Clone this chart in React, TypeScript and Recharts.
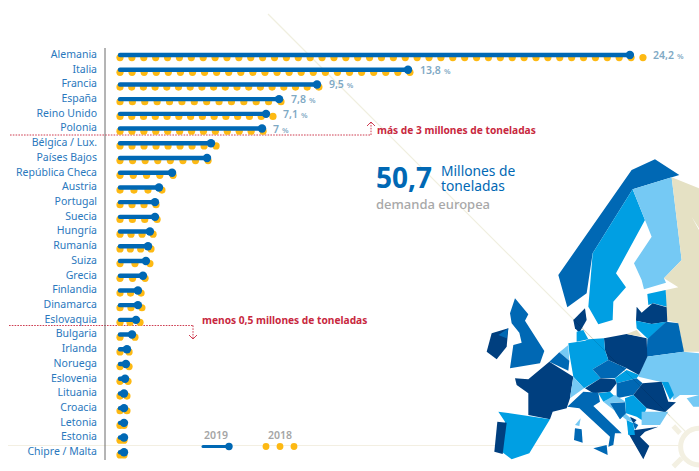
import React from "react";
import { BarChart, Bar, XAxis, YAxis, LabelList, Legend } from "recharts";

const countries = ["Alemania","Italia","Francia","España","Reino Unido","Polonia","Bélgica / Lux.","Países Bajos","República Checa","Austria","Portugal","Suecia","Hungría","Rumanía","Suiza","Grecia","Finlandia","Dinamarca","Eslovaquia","Bulgaria","Irlanda","Noruega","Eslovenia","Lituania","Croacia","Letonia","Estonia","Chipre / Malta"];
const values2019 = [24.2,13.67,9.35,7.55,6.93,6.74,4.32,4.13,2.47,1.85,1.66,1.66,1.42,1.33,1.23,1.09,0.85,0.85,0.76,0.57,0.33,0.28,0.24,0.19,0.19,0.19,0.19,0.19];
const values2018 = [24.82,13.76,9.44,7.64,7.26,6.79,4.56,4.18,2.52,1.99,1.71,1.76,1.57,1.47,1.42,1.19,1.0,1.04,0.95,0.71,0.43,0.43,0.38,0.33,0.33,0.19,0.19,0.19];
const shareLabels = ["24,2","13,8","9,5","7,8","7,1","7"];

const data = countries.map((name, i) => ({ name, y2019: values2019[i], y2018: values2018[i], share: shareLabels[i] ?? "" }));

const FONT = "'Noto Sans', sans-serif";
const BLUE = "#0068b4";
const YELLOW = "#fdb913";
const RED = "#c8283e";

const mapShapes: [string, string][] = [
  ["#0068b4","515,60 585,28 658,75 518,118 398,310 380,430 322,472 295,375"],
  ["#009fe3","518,118 555,210 468,370 498,412 460,455 458,510 415,523 385,470 398,310"],
  ["#75c9f4","518,118 635,82 665,330 612,385 618,398 552,418 545,390 522,340 575,260 555,210"],
  ["#e5e1c4","635,82 717,115 717,235 695,200 717,240 717,605 670,605 655,520 618,510 617,420 655,412 612,385 665,330"],
  ["#009fe3","562,432 617,420 620,470 580,460 565,465"],
  ["#003f7f","530,470 545,488 578,460 620,472 622,515 575,522 528,512"],
  ["#009fe3","528,512 575,522 618,515 565,568 530,535"],
  ["#0068b4","618,515 655,520 672,605 560,620 562,568"],
  ["#75c9f4","560,620 670,605 717,610 717,735 660,735 640,750 625,695 600,695 535,680"],
  ["#003f7f","432,565 500,552 560,565 562,620 537,675 500,655 445,630 435,600"],
  ["#e5e1c4","500,552 530,540 547,560"],
  ["#009fe3","325,580 375,572 385,568 432,565 435,600 445,630 398,658 422,685 372,715 340,680 328,610"],
  ["#003f7f","340,510 375,475 380,510 358,548 345,535"],
  ["#009fe3","350,545 370,540 385,568 350,575"],
  ["#75c9f4","298,607 325,585 328,632"],
  ["#0068b4","268,635 298,607 328,632 325,662"],
  ["#003f7f","165,685 205,688 268,635 340,680 330,745 320,775 278,785 270,808 205,795 205,730 170,705"],
  ["#0068b4","398,658 445,630 500,655 465,685 422,685"],
  ["#009fe3","465,685 500,660 537,675 530,685 470,700"],
  ["#003f7f","375,715 422,685 465,688 470,700 450,725 400,730"],
  ["#75c9f4","340,680 372,715 330,745"],
  ["#0068b4","470,700 530,685 548,700 520,735 470,745"],
  ["#003f7f","548,700 605,695 625,755 648,757 615,787 560,775 520,735"],
  ["#009fe3","605,695 625,695 642,735 630,750"],
  ["#009fe3","415,730 450,725 465,740 430,755"],
  ["#75c9f4","430,755 465,735 497,755 450,760 480,808 495,790 530,820 500,810"],
  ["#0068b4","450,760 495,757 498,790 480,808"],
  ["#009fe3","495,745 520,735 560,775 545,810 530,800 498,790"],
  ["#75c9f4","545,785 625,785 600,825 545,825"],
  ["#0068b4","322,770 370,725 415,728 420,755 400,768 485,850 465,850 460,885 445,890 450,860 358,775"],
  ["#0068b4","400,895 440,885 443,915"],
  ["#0068b4","345,835 365,838 368,878 342,870"],
  ["#75c9f4","345,825 362,805 358,828"],
  ["#009fe3","115,785 270,808 208,910 155,928 125,905 135,815"],
  ["#003f7f","112,815 140,818 128,912 103,905"],
  ["#0068b4","165,445 205,493 195,512 253,603 240,640 150,655 160,585 185,578 178,548 155,520 150,490"],
  ["#003f7f","95,550 145,535 140,590 110,628 80,605"],
  ["#0068b4","115,555 145,535 140,565"],
  ["#003f7f","510,842 595,830 555,845 540,860 568,888 550,928 505,850"],
  ["#003f7f","510,800 530,810 520,820"],
  ["#009fe3","500,810 520,820 525,855 505,855"],
  ["#0068b4","518,815 535,825 525,840"],
  ["#75c9f4","680,745 717,735 717,770 700,770"],
];

const Lollipop = (p: any) => {
  const cy = p.y + p.height / 2;
  return (
    <g>
      <line x1={p.x} x2={p.x + p.width} y1={cy} y2={cy} stroke={BLUE} strokeWidth={4.4} strokeLinecap="round" />
      <circle cx={p.x + p.width} cy={cy} r={4.2} fill={BLUE} />
    </g>
  );
};

const Dots = (p: any) => {
  const cy = p.y + p.height / 2 + 2.6;
  const n = Math.max(1, Math.round(p.width / 12));
  const step = p.width / n;
  return (
    <g>
      {Array.from({ length: n + 1 }, (_, i) => (
        <circle key={i} cx={p.x + i * step} cy={cy} r={3.6} fill={YELLOW} />
      ))}
    </g>
  );
};

const CountryTick = (p: any) => (
  <text x={97} y={p.y} dy={2.5} textAnchor="end" fontFamily={FONT} fontSize={10.5} fill="#2a78bd">
    {p.payload.value}
  </text>
);

const ShareLabel = (p: any) => {
  if (!p.value) return null;
  return (
    <text x={p.x + p.width + 10} y={p.y + p.height / 2 + 4} fontFamily={FONT} fontSize={10.5} fontWeight={600} fill="#7fa9c4">
      {p.value}
      <tspan fontSize={7.5} dx={3}>%</tspan>
    </text>
  );
};

const LegendBox = () => (
  <svg width={110} height={24} style={{ display: "block", overflow: "visible" }}>
    <text x={2} y={10} fontFamily={FONT} fontSize={10.5} fontWeight={600} fill="#a5a5a5">2019</text>
    <line x1={1} x2={27} y1={17.5} y2={17.5} stroke={BLUE} strokeWidth={3} strokeLinecap="round" />
    <circle cx={27} cy={17.5} r={3.7} fill={BLUE} />
    <text x={66} y={10} fontFamily={FONT} fontSize={10.5} fontWeight={600} fill="#a5a5a5">2018</text>
    {[64, 78, 92].map((cx) => (
      <circle key={cx} cx={cx} cy={17.5} r={3.4} fill={YELLOW} />
    ))}
  </svg>
);

export default function App() {
  return (
    <div style={{ position: "absolute", left: 0, top: 0, width: 699, height: 471, background: "#fff", overflow: "hidden" }}>
      <svg width={699} height={471} style={{ position: "absolute", left: 0, top: 0 }}>
        <line x1={268} y1={14} x2={699} y2={445} stroke="#f0efdf" strokeWidth={1.2} />
        <line x1={8} y1={445.5} x2={699} y2={445.5} stroke="#f3efe2" strokeWidth={1.2} />
        <g transform="translate(460,150) scale(0.3333)">
          {mapShapes.map(([fill, pts], i) => (
            <polygon key={i} points={pts} fill={fill} />
          ))}
          <circle cx={717} cy={890} r={55} fill="#fff" stroke="#f3f0e2" strokeWidth={15} />
          <line x1={640} y1={828} x2={660} y2={850} stroke="#f3f0e2" strokeWidth={15} />
          <line x1={640} y1={950} x2={665} y2={925} stroke="#f3f0e2" strokeWidth={15} />
        </g>
        <line x1={573} y1={319} x2={670} y2={416} stroke="#000" strokeOpacity={0.1} strokeWidth={1} />

        <line x1={10} x2={371} y1={135} y2={135} stroke={RED} strokeWidth={0.9} strokeDasharray="1.6 1.2" />
        <line x1={371} x2={371} y1={135} y2={122} stroke={RED} strokeWidth={0.9} strokeDasharray="1.6 1.2" />
        <polyline points="367,126 371,122 375,126" fill="none" stroke={RED} strokeWidth={0.9} />
        <text x={377} y={134} fontFamily={FONT} fontSize={10.2} fontWeight={700} fill={RED}>más de 3 millones de toneladas</text>

        <line x1={9} x2={193} y1={325.5} y2={325.5} stroke={RED} strokeWidth={0.9} strokeDasharray="1.6 1.2" />
        <line x1={193} x2={193} y1={325.5} y2={339} stroke={RED} strokeWidth={0.9} strokeDasharray="1.6 1.2" />
        <polyline points="189,335 193,339 197,335" fill="none" stroke={RED} strokeWidth={0.9} />
        <text x={202} y={324} fontFamily={FONT} fontSize={10.2} fontWeight={700} fill={RED}>menos 0,5 millones de toneladas</text>

        <text x={376} y={188} fontFamily={FONT} fontSize={28} fontWeight={700} fill={BLUE}>50,7</text>
        <text x={441} y={176} fontFamily={FONT} fontSize={13.8} fill={BLUE}>Millones de</text>
        <text x={441} y={191} fontFamily={FONT} fontSize={13.8} fill={BLUE}>toneladas</text>
        <text x={376} y={209} fontFamily={FONT} fontSize={13} fontWeight={500} fill="#a8a8a8">demanda europea</text>
      </svg>

      <div style={{ position: "absolute", left: 0, top: 0 }}>
        <BarChart
          width={699}
          height={471}
          data={data}
          layout="vertical"
          margin={{ top: 48, right: 0, bottom: 11, left: 0 }}
          barSize={4}
          barGap={-4}
          style={{ background: "transparent" }}
        >
          <XAxis type="number" hide domain={[-0.712, 27.48]} allowDataOverflow />
          <YAxis
            type="category"
            dataKey="name"
            width={105}
            interval={0}
            tick={CountryTick}
            tickLine={false}
            axisLine={{ stroke: "#6b6b6b", strokeWidth: 1 }}
          />
          <Legend
            layout="horizontal"
            verticalAlign="middle"
            align="center"
            content={LegendBox}
            wrapperStyle={{ left: 202, top: 429, width: 110, height: 24, bottom: "auto" }}
          />
          <Bar dataKey="y2018" name="2018" fill={YELLOW} shape={Dots} isAnimationActive={false}>
            <LabelList dataKey="share" content={ShareLabel} />
          </Bar>
          <Bar dataKey="y2019" name="2019" fill={BLUE} shape={Lollipop} isAnimationActive={false} />
        </BarChart>
      </div>
    </div>
  );
}
